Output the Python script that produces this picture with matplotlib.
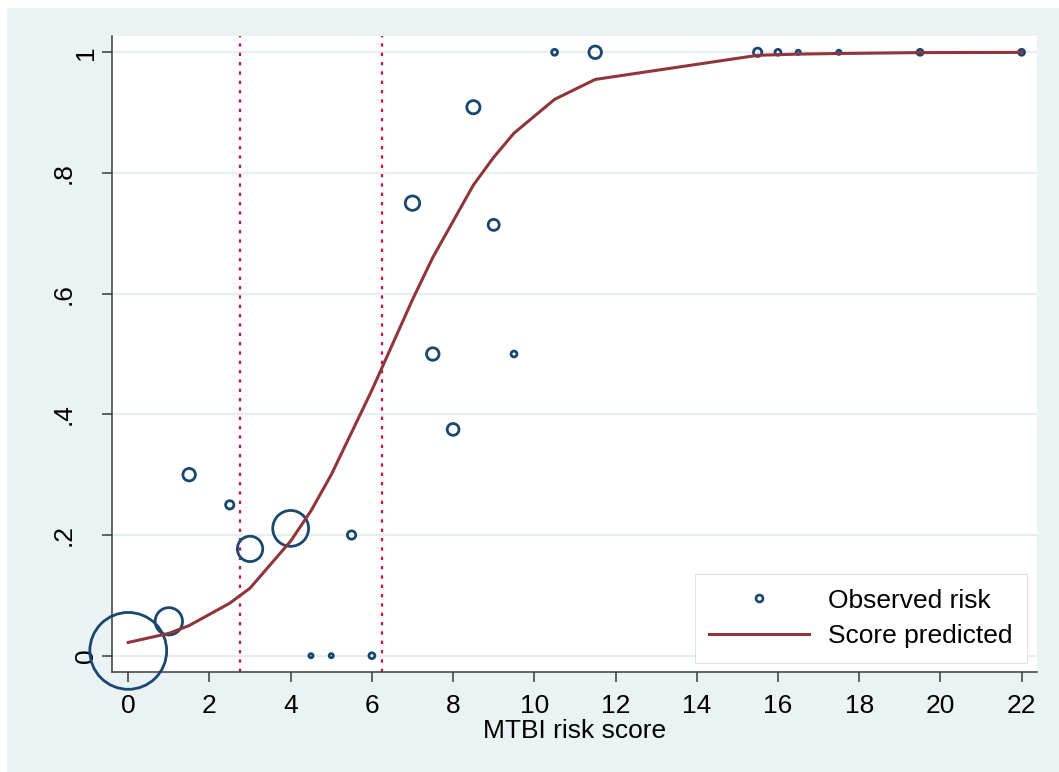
import matplotlib
matplotlib.use("Agg")
import matplotlib.pyplot as plt
import matplotlib.transforms as mtransforms
from matplotlib.lines import Line2D
from matplotlib.patches import Rectangle

plt.rcParams['font.family'] = ['Liberation Sans', 'DejaVu Sans']

# ---- data ----
score = [0, 1, 1.5, 2.5, 3, 4, 4.5, 5, 5.5, 6, 7, 7.5, 8, 8.5, 9, 9.5,
         10.5, 11.5, 15.5, 16, 16.5, 17.5, 19.5, 22]
observed = [0.008, 0.057, 0.30, 0.25, 0.177, 0.211, 0.0, 0.0, 0.20, 0.0,
            0.75, 0.50, 0.375, 0.909, 0.714, 0.50,
            1.0, 1.0, 1.0, 1.0, 1.0, 1.0, 1.0, 1.0]
n_patients = [340, 43, 9, 4, 37, 74, 1, 1, 4, 2, 12, 9, 8, 10, 7, 2,
              2, 9, 4, 2, 1, 1, 2, 2]
predicted = [0.022, 0.037, 0.050, 0.087, 0.112, 0.190, 0.240, 0.300, 0.370,
             0.440, 0.590, 0.660, 0.720, 0.780, 0.826, 0.866,
             0.922, 0.955, 0.995, 0.996, 0.997, 0.998, 0.9995, 0.9998]
cutoffs = [2.75, 6.25]
xticks = list(range(0, 23, 2))
yticks = [0, 0.2, 0.4, 0.6, 0.8, 1.0]
ytick_labels = ['0', '.2', '.4', '.6', '.8', '1']

# ---- style ----
W, H = 1059, 772
navy = '#1A476F'
maroon = '#90353B'
red = '#CF1241'
panel = '#EAF2F3'
grid_c = '#E6EEF0'
axis_c = '#3A3A3A'
fs = 19

fig = plt.figure(figsize=(W / 100, H / 100), dpi=100)
fig.patch.set_facecolor('white')
fig.patches.append(Rectangle((7 / W, 0), 1 - 7 / W, (H - 8) / H,
                             transform=fig.transFigure, facecolor=panel,
                             edgecolor='none', zorder=-10))

ax = fig.add_axes([112 / W, (H - 672) / H, (1037 - 112) / W, (672 - 36) / H])
ax.set_facecolor('white')
ax.set_xlim(-0.40, 22.38)
ax.set_ylim(-0.027, 1.027)

for s in ['top', 'right']:
    ax.spines[s].set_visible(False)
for s in ['left', 'bottom']:
    ax.spines[s].set_color(axis_c)
    ax.spines[s].set_linewidth(1.1)

ax.set_yticks(yticks)
ax.set_yticklabels(ytick_labels)
ax.set_xticks(xticks)
ax.tick_params(axis='both', length=7.2, width=1.1, color=axis_c,
               labelsize=fs, labelcolor='black')
ax.tick_params(axis='x', pad=8.5)
ax.tick_params(axis='y', pad=3.2)
shift = mtransforms.ScaledTranslation(-22 / 100, 0, fig.dpi_scale_trans)
for lab in ax.get_yticklabels():
    lab.set_rotation(90)
    lab.set_va('center')
    lab.set_ha('right')
    if lab.get_text() not in ('0', '1'):
        lab.set_transform(lab.get_transform() + shift)

ax.grid(axis='y', color=grid_c, linewidth=1.6, zorder=0)
ax.grid(axis='x', visible=False)
ax.set_axisbelow(True)

for c in cutoffs:
    ax.axvline(c, color=red, linewidth=1.6, linestyle=(0, (1.5, 2.7)), zorder=1)

ax.scatter(score, observed, s=[9 * n for n in n_patients], facecolors='none',
           edgecolors=navy, linewidths=2.0, zorder=3, clip_on=False)
ax.plot(score, predicted, color=maroon, linewidth=2.2, zorder=4,
        solid_joinstyle='miter')

ax.set_xlabel('MTBI risk score', fontsize=fs, labelpad=0.5)

handles = [Line2D([], [], linestyle='none', marker='o', markersize=5,
                  markerfacecolor='none', markeredgecolor=navy,
                  markeredgewidth=1.9),
           Line2D([], [], color=maroon, linewidth=2.2)]
leg = ax.legend(handles, ['Observed risk', 'Score predicted'],
                loc='lower right', bbox_to_anchor=(0.989, 0.0142),
                borderaxespad=0, fontsize=fs, frameon=True, fancybox=False,
                framealpha=1, edgecolor='#DCE4E6', handlelength=3.8,
                handletextpad=0.7, borderpad=0.55, labelspacing=0.45)
leg.get_frame().set_linewidth(0.8)
leg.set_zorder(5)

fig.savefig('out.png', dpi=100, facecolor=fig.get_facecolor())
